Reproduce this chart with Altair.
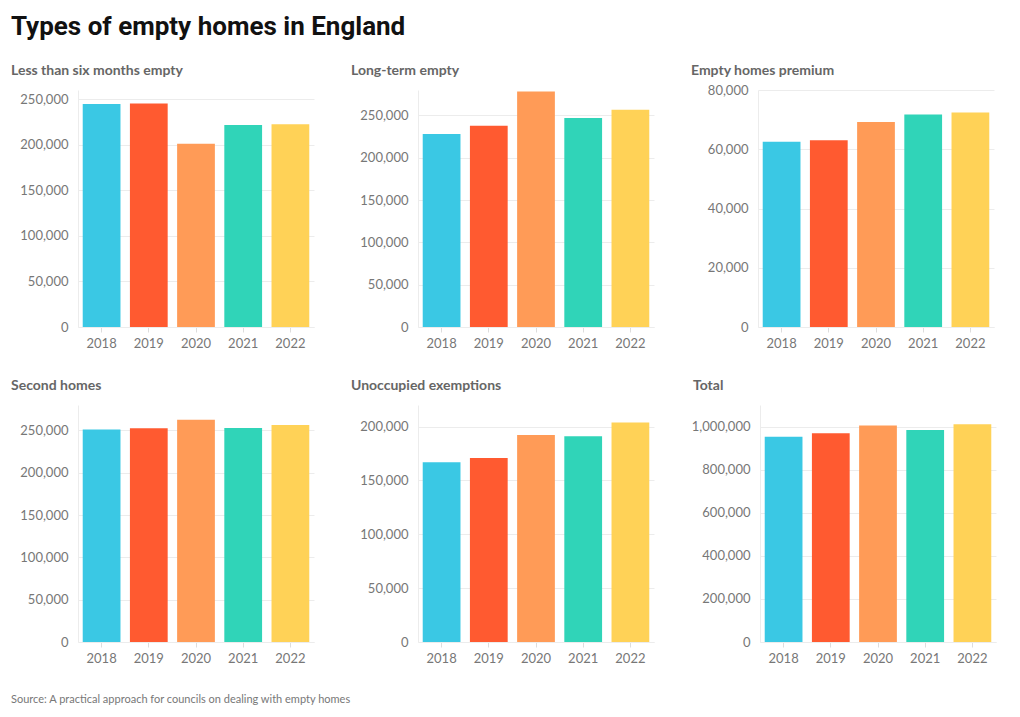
import altair as alt
import pandas as pd

years = ["2018", "2019", "2020", "2021", "2022"]
colors = ["#3AC8E4", "#FF5A30", "#FF9B57", "#30D4B8", "#FFD257"]

panel_titles = [
    "Less than six months empty",
    "Long-term empty",
    "Empty homes premium",
    "Second homes",
    "Unoccupied exemptions",
    "Total",
]
less_than_six = [244700, 245300, 201000, 221600, 222300]
long_term = [228000, 237700, 278300, 246800, 256600]
premium = [62500, 63000, 69200, 71700, 72400]
second_homes = [251200, 252400, 262600, 252800, 256400]
unoccupied = [166800, 170800, 192200, 191000, 203700]
total = [953000, 969000, 1004700, 984000, 1010700]

domain_max = [260000, 280000, 80000, 280000, 220000, 1100000]
ticks_50k = [0, 50000, 100000, 150000, 200000, 250000]
ticks_20k = [0, 20000, 40000, 60000, 80000]
ticks_200k = [0, 200000, 400000, 600000, 800000, 1000000]
tick_values = [ticks_50k, ticks_50k, ticks_20k, ticks_50k, ticks_50k[:5], ticks_200k]

series = [less_than_six, long_term, premium, second_homes, unoccupied, total]

main_title = "Types of empty homes in England"
source_text = "Source: A practical approach for councils on dealing with empty homes"

FONT = "Lato"
TITLE_FONT = "Roboto"
GRID = "#ececec"
LABEL = "#777777"


def panel(title, values, dmax, ticks):
    df = pd.DataFrame({"year": years, "value": values})
    bars = (
        alt.Chart(df)
        .mark_bar()
        .encode(
            x=alt.X(
                "year:N",
                title=None,
                scale=alt.Scale(paddingInner=0.2, paddingOuter=0.1),
                axis=alt.Axis(
                    labelAngle=0,
                    labelFont=FONT,
                    labelFontSize=13,
                    labelColor=LABEL,
                    tickColor="#dddddd",
                    tickSize=5,
                    labelPadding=5,
                    domainColor=GRID,
                ),
            ),
            y=alt.Y(
                "value:Q",
                title=None,
                scale=alt.Scale(domain=[0, dmax], nice=False),
                axis=alt.Axis(
                    values=ticks,
                    format=",.0f",
                    labelFont=FONT,
                    labelFontSize=13,
                    labelColor=LABEL,
                    ticks=False,
                    labelPadding=10,
                    domainColor=GRID,
                    gridColor=GRID,
                    minExtent=67,
                    maxExtent=67,
                ),
            ),
            color=alt.Color(
                "year:N", scale=alt.Scale(domain=years, range=colors), legend=None
            ),
        )
    )
    head = (
        alt.Chart(pd.DataFrame({"t": [title]}))
        .mark_text(
            align="left",
            baseline="alphabetic",
            font=FONT,
            fontSize=14,
            fontWeight="bold",
            color="#666666",
        )
        .encode(text="t:N", x=alt.value(-67), y=alt.value(-15))
    )
    return alt.layer(bars, head).properties(width=236, height=237)


panels = [
    panel(t, v, d, tv)
    for t, v, d, tv in zip(panel_titles, series, domain_max, tick_values)
]

row1 = alt.hconcat(*panels[:3], spacing=37)
row2 = alt.hconcat(*panels[3:], spacing=37)

footer = (
    alt.Chart(pd.DataFrame({"t": [source_text]}))
    .mark_text(align="left", baseline="middle", font=FONT, fontSize=11, color="#777777")
    .encode(text="t:N", x=alt.value(-67), y=alt.value(5))
    .properties(width=400, height=10)
)

chart = (
    alt.vconcat(row1, row2, footer, spacing=29)
    .properties(
        title=alt.TitleParams(
            main_title,
            anchor="start",
            font=TITLE_FONT,
            fontSize=26,
            fontWeight="bold",
            color="#111111",
            offset=24,
        ),
        padding={"left": 3, "top": 6, "right": 5, "bottom": 5},
    )
    .configure_view(stroke=None)
)

chart.save("out.html", embed_options={"renderer": "svg", "actions": False})
